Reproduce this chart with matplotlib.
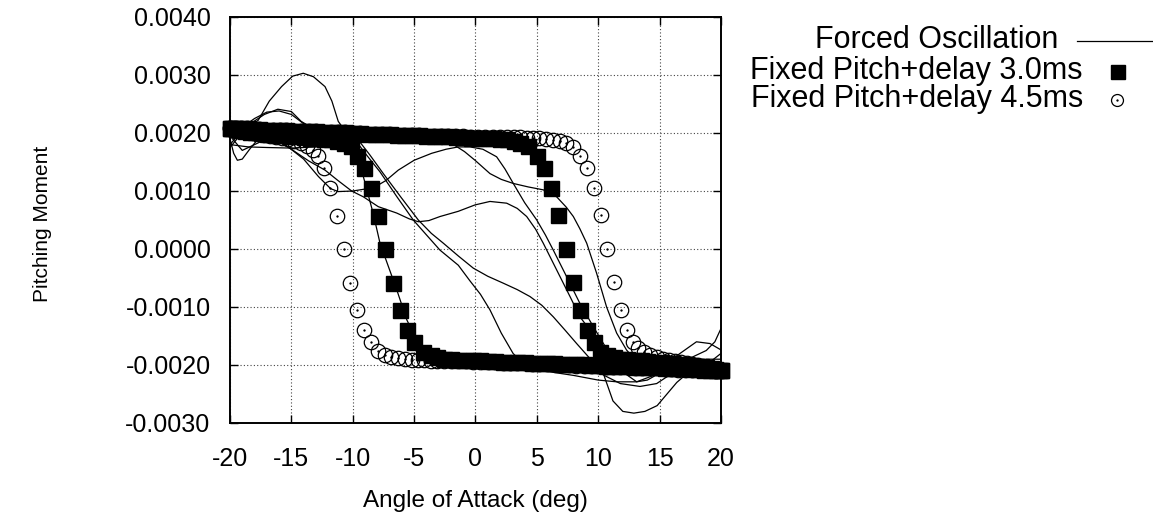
import matplotlib
matplotlib.use('Agg')
import matplotlib.pyplot as plt
from matplotlib.lines import Line2D
from matplotlib.ticker import FormatStrFormatter

plt.rcParams['font.family'] = ['Liberation Sans', 'DejaVu Sans']
plt.rcParams['axes.unicode_minus'] = False

# fixed pitch + 3.0 ms delay, alpha increasing
sq_up_aoa = [-20.0, -19.6, -19.1, -18.6, -18.1, -17.6, -17.05, -16.5, -15.95, -15.4,
             -14.8, -14.2, -13.6, -13.0, -12.4, -11.8, -11.2, -10.6, -10.0, -9.4,
             -8.8, -8.2, -7.6, -7.0, -6.4, -5.8, -5.2, -4.6, -4.0, -3.4,
             -2.8, -2.2, -1.6, -1.0, -0.4, 0.2, 0.8, 1.4, 2.0, 2.55,
             3.1, 3.65, 4.25, 4.99, 5.58, 6.18, 6.75, 7.40, 7.97, 8.54,
             9.11, 9.65, 10.14, 10.7, 11.25, 11.8, 12.35, 12.9, 13.45, 14.0,
             14.5, 15.0, 15.5, 16.0, 16.5, 17.0, 17.5, 17.95, 18.4, 18.8,
             19.2, 19.5, 19.8, 20.0]
sq_up_cm = [0.00209, 0.00209, 0.00208, 0.00208, 0.00207, 0.00207, 0.00206, 0.00206, 0.00205, 0.00205,
            0.00204, 0.00204, 0.00203, 0.00203, 0.00202, 0.00202, 0.00201, 0.00201, 0.00200, 0.00200,
            0.00199, 0.00199, 0.00198, 0.00198, 0.00197, 0.00197, 0.00196, 0.00196, 0.00195, 0.00195,
            0.00194, 0.00194, 0.00193, 0.00193, 0.00192, 0.00192, 0.00191, 0.00191, 0.00190, 0.00189,
            0.00187, 0.00183, 0.00177, 0.00160, 0.00140, 0.00106, 0.00058, 0.00000, -0.00057, -0.00105,
            -0.00140, -0.00160, -0.00177, -0.00183, -0.00187, -0.00189, -0.00190, -0.00191, -0.00192, -0.00193,
            -0.00194, -0.00195, -0.00196, -0.00197, -0.00198, -0.00199, -0.00200, -0.00201, -0.00202, -0.00204,
            -0.00206, -0.00207, -0.00208, -0.00209]

# fixed pitch + 3.0 ms delay, alpha decreasing
sq_dn_aoa = [-20.0, -19.8, -19.5, -19.2, -18.8, -18.4, -17.95, -17.5, -17.0, -16.5,
             -16.0, -15.5, -15.0, -14.5, -14.0, -13.45, -12.9, -12.35, -11.8, -11.25,
             -10.7, -10.14, -9.65, -9.11, -8.54, -7.97, -7.40, -6.75, -6.18, -5.58,
             -4.99, -4.25, -3.65, -3.1, -2.55, -2.0, -1.4, -0.8, -0.2, 0.4,
             1.0, 1.6, 2.2, 2.8, 3.4, 4.0, 4.6, 5.2, 5.8, 6.4,
             7.0, 7.6, 8.2, 8.8, 9.4, 10.0, 10.6, 11.2, 11.8, 12.4,
             13.0, 13.6, 14.2, 14.8, 15.4, 15.95, 16.5, 17.05, 17.6, 18.1,
             18.6, 19.1, 19.6, 20.0]
sq_dn_cm = [0.00209, 0.00208, 0.00207, 0.00206, 0.00204, 0.00202, 0.00201, 0.00200, 0.00199, 0.00198,
            0.00197, 0.00196, 0.00195, 0.00194, 0.00193, 0.00192, 0.00191, 0.00190, 0.00189, 0.00187,
            0.00183, 0.00177, 0.00160, 0.00140, 0.00105, 0.00057, 0.00000, -0.00058, -0.00106, -0.00140,
            -0.00160, -0.00177, -0.00183, -0.00187, -0.00189, -0.00190, -0.00191, -0.00191, -0.00192, -0.00192,
            -0.00193, -0.00193, -0.00194, -0.00194, -0.00195, -0.00195, -0.00196, -0.00196, -0.00197, -0.00197,
            -0.00198, -0.00198, -0.00199, -0.00199, -0.00200, -0.00200, -0.00201, -0.00201, -0.00202, -0.00202,
            -0.00203, -0.00203, -0.00204, -0.00204, -0.00205, -0.00205, -0.00206, -0.00206, -0.00207, -0.00207,
            -0.00208, -0.00208, -0.00209, -0.00209]

# fixed pitch + 4.5 ms delay, alpha increasing
ci_up_aoa = [-20.0, -19.6, -19.1, -18.6, -18.1, -17.6, -17.05, -16.5, -15.95, -15.4,
             -14.8, -14.2, -13.6, -13.0, -12.4, -11.8, -11.2, -10.6, -10.0, -9.4,
             -8.8, -8.2, -7.6, -7.0, -6.4, -5.8, -5.2, -4.6, -4.0, -3.4,
             -2.8, -2.2, -1.6, -1.0, -0.4, 0.2, 0.8, 1.4, 2.0, 2.55,
             3.1, 3.65, 4.2, 4.7, 5.2, 5.75, 6.3, 6.85, 7.4, 7.95,
             8.51, 9.06, 9.68, 10.22, 10.71, 11.28, 11.83, 12.32, 12.81, 13.26,
             13.75, 14.25, 14.75, 15.25, 15.75, 16.25, 16.75, 17.2, 17.65, 18.1,
             18.5, 18.9, 19.3, 19.6, 19.85, 20.0]
ci_up_cm = [0.00209, 0.00209, 0.00208, 0.00208, 0.00207, 0.00207, 0.00206, 0.00206, 0.00205, 0.00205,
            0.00204, 0.00204, 0.00203, 0.00203, 0.00202, 0.00202, 0.00201, 0.00201, 0.00200, 0.00200,
            0.00199, 0.00199, 0.00198, 0.00198, 0.00197, 0.00197, 0.00196, 0.00196, 0.00195, 0.00195,
            0.00194, 0.00194, 0.00194, 0.00194, 0.00193, 0.00193, 0.00193, 0.00193, 0.00193, 0.00193,
            0.00193, 0.00193, 0.00192, 0.00192, 0.00191, 0.00190, 0.00188, 0.00186, 0.00182, 0.00176,
            0.00160, 0.00140, 0.00106, 0.00058, 0.00000, -0.00057, -0.00105, -0.00140, -0.00160, -0.00171,
            -0.00178, -0.00183, -0.00187, -0.00189, -0.00191, -0.00193, -0.00195, -0.00197, -0.00199, -0.00200,
            -0.00202, -0.00204, -0.00206, -0.00207, -0.00208, -0.00209]

# fixed pitch + 4.5 ms delay, alpha decreasing
ci_dn_aoa = [-20.0, -19.85, -19.6, -19.3, -18.9, -18.5, -18.1, -17.65, -17.2, -16.75,
             -16.25, -15.75, -15.25, -14.75, -14.25, -13.75, -13.26, -12.81, -12.32, -11.83,
             -11.28, -10.71, -10.22, -9.68, -9.06, -8.51, -7.95, -7.4, -6.85, -6.3,
             -5.75, -5.2, -4.7, -4.2, -3.65, -3.1, -2.55, -2.0, -1.4, -0.8,
             -0.2, 0.4, 1.0, 1.6, 2.2, 2.8, 3.4, 4.0, 4.6, 5.2,
             5.8, 6.4, 7.0, 7.6, 8.2, 8.8, 9.4, 10.0, 10.6, 11.2,
             11.8, 12.4, 13.0, 13.6, 14.2, 14.8, 15.4, 15.95, 16.5, 17.05,
             17.6, 18.1, 18.6, 19.1, 19.6, 20.0]
ci_dn_cm = [0.00209, 0.00208, 0.00207, 0.00206, 0.00204, 0.00202, 0.00200, 0.00199, 0.00197, 0.00195,
            0.00193, 0.00191, 0.00189, 0.00187, 0.00183, 0.00178, 0.00171, 0.00160, 0.00140, 0.00105,
            0.00057, 0.00000, -0.00058, -0.00106, -0.00140, -0.00160, -0.00176, -0.00182, -0.00186, -0.00188,
            -0.00190, -0.00191, -0.00192, -0.00192, -0.00193, -0.00193, -0.00193, -0.00193, -0.00193, -0.00193,
            -0.00194, -0.00194, -0.00195, -0.00195, -0.00196, -0.00196, -0.00197, -0.00197, -0.00198, -0.00198,
            -0.00199, -0.00199, -0.00200, -0.00200, -0.00201, -0.00201, -0.00202, -0.00202, -0.00203, -0.00203,
            -0.00204, -0.00204, -0.00205, -0.00205, -0.00206, -0.00206, -0.00207, -0.00207, -0.00208, -0.00208,
            -0.00208, -0.00209, -0.00209, -0.00209, -0.00210, -0.00210]

# forced oscillation traces
fo1_aoa = [-20.0, -19.5, -18.8, -17.7, -16.8, -15.8, -14.9, -14.03, -13.2, -12.26,
           -11.7, -11.18, -10.6, -10.09, -9.6, -9.14, -8.33, -7.78, -7.1, -6.42,
           -5.6, -4.79, -3.97, -3.0, -1.0, 2.0, 6.0, 10.0, 14.0, 17.0, 20.0]
fo1_cm = [0.00175, 0.00188, 0.00205, 0.00222, 0.00255, 0.00280, 0.00298, 0.00303, 0.00297, 0.00280,
          0.00255, 0.00220, 0.00203, 0.00188, 0.00160, 0.00125, 0.00061, 0.00010, -0.00030, -0.00070,
          -0.00122, -0.00157, -0.00186, -0.00195, -0.00198, -0.00201, -0.00204, -0.00208, -0.00210, -0.00210,
          -0.00210]

fo2_aoa = [-20.0, -19.7, -19.4, -19.0, -18.4, -17.7, -16.8, -15.5, -14.0, -12.8,
           -11.8, -11.18, -10.0, -9.1, -8.19, -7.3, -6.29, -5.0, -3.57, -2.4,
           -1.4, -0.45, 0.6, 1.72, 2.4, 3.08, 4.0, 4.99, 5.7, 6.34,
           7.43, 8.51, 9.6, 10.42, 11.2, 12.0, 13.13, 14.0, 15.0, 16.0,
           17.0, 18.0, 19.1, 20.0]
fo2_cm = [0.00190, 0.00165, 0.00153, 0.00155, 0.00172, 0.00190, 0.00192, 0.00180, 0.00155, 0.00125,
          0.00104, 0.00099, 0.00100, 0.00103, 0.00107, 0.00118, 0.00136, 0.00153, 0.00165, 0.00172,
          0.00176, 0.00176, 0.00172, 0.00159, 0.00138, 0.00113, 0.00080, 0.00050, 0.00024, -0.00002,
          -0.00048, -0.00094, -0.00134, -0.00163, -0.00190, -0.00212, -0.00229, -0.00226, -0.00214, -0.00190,
          -0.00175, -0.00160, -0.00163, -0.00174]

fo3_aoa = [-20.0, -19.0, -18.0, -17.0, -16.3, -15.0, -13.6, -12.26, -11.2, -10.09,
           -9.14, -7.92, -6.42, -5.4, -4.66, -3.8, -2.89, -1.4, -0.04, 1.18,
           2.54, 3.4, 4.17, 4.9, 5.52, 6.61, 7.70, 8.51, 9.33, 10.0,
           10.5, 11.2, 12.0, 12.9, 13.8, 14.8, 15.6, 16.4, 17.5, 18.6,
           19.4, 20.0]
fo3_cm = [0.00195, 0.00170, 0.00180, 0.00190, 0.00188, 0.00172, 0.00152, 0.00136, 0.00118, 0.00100,
          0.00090, 0.00073, 0.00062, 0.00052, 0.00047, 0.00049, 0.00056, 0.00065, 0.00076, 0.00082,
          0.00079, 0.00070, 0.00056, 0.00034, 0.00010, -0.00036, -0.00082, -0.00117, -0.00140, -0.00180,
          -0.00220, -0.00262, -0.00280, -0.00283, -0.00280, -0.00270, -0.00250, -0.00230, -0.00210, -0.00203,
          -0.00190, -0.00180]

fo4_aoa = [-20.0, -19.2, -18.2, -17.2, -16.1, -15.0, -14.2, -13.0, -11.0, -8.0,
           -5.0, -3.0, -1.94, -0.9, -0.04, 1.18, 2.1, 3.08, 4.3, 5.52,
           6.61, 7.4, 7.97, 8.5, 9.06, 9.87, 10.68, 11.5, 12.3, 13.2,
           14.2, 15.4, 16.6, 17.8, 18.8, 19.5, 20.0]
fo4_cm = [0.00180, 0.00200, 0.00218, 0.00232, 0.00241, 0.00237, 0.00220, 0.00205, 0.00203, 0.00200,
          0.00196, 0.00190, 0.00182, 0.00168, 0.00153, 0.00130, 0.00120, 0.00113, 0.00107, 0.00102,
          0.00090, 0.00072, 0.00056, 0.00035, 0.00010, -0.00042, -0.00100, -0.00145, -0.00174, -0.00196,
          -0.00205, -0.00208, -0.00200, -0.00185, -0.00175, -0.00160, -0.00137]

fo5_aoa = [-20.0, -19.0, -18.0, -17.0, -16.0, -15.0, -14.0, -12.5, -11.0, -10.2,
           -9.55, -8.6, -7.51, -6.1, -4.66, -3.6, -2.62, -1.4, -0.18, 1.0,
           2.27, 3.4, 4.44, 5.4, 6.34, 7.3, 8.24, 9.33, 10.4, 11.8,
           13.4, 14.76, 16.4, 18.0, 20.0]
fo5_cm = [0.00205, 0.00210, 0.00225, 0.00236, 0.00238, 0.00232, 0.00216, 0.00203, 0.00200, 0.00196,
          0.00188, 0.00162, 0.00130, 0.00090, 0.00050, 0.00027, 0.00010, -0.00012, -0.00033, -0.00047,
          -0.00059, -0.00070, -0.00082, -0.00097, -0.00117, -0.00140, -0.00163, -0.00189, -0.00217, -0.00232,
          -0.00237, -0.00232, -0.00209, -0.00200, -0.00205]

fo6_aoa = [-20.0, -18.5, -17.0, -15.0, -13.0, -11.5, -10.4, -9.7, -8.8, -7.78,
           -6.4, -5.07, -3.9, -2.89, -1.4, -0.45, 0.4, 1.18, 2.1, 3.06,
           4.0, 5.5, 8.0, 10.0, 11.5, 13.13, 15.0, 17.2, 18.8, 20.0]
fo6_cm = [0.00180, 0.00176, 0.00175, 0.00174, 0.00176, 0.00185, 0.00190, 0.00185, 0.00160, 0.00133,
          0.00090, 0.00050, 0.00022, -0.00002, -0.00028, -0.00055, -0.00078, -0.00105, -0.00145, -0.00180,
          -0.00200, -0.00210, -0.00218, -0.00226, -0.00229, -0.00229, -0.00214, -0.00203, -0.00190, -0.00190]

fo_curves = [(fo1_aoa, fo1_cm), (fo2_aoa, fo2_cm), (fo3_aoa, fo3_cm),
             (fo4_aoa, fo4_cm), (fo5_aoa, fo5_cm), (fo6_aoa, fo6_cm)]

x_ticks = [-20, -15, -10, -5, 0, 5, 10, 15, 20]
y_ticks = [-0.003, -0.002, -0.001, 0.0, 0.001, 0.002, 0.003, 0.004]

W, H = 1153, 520
fig = plt.figure(figsize=(W / 100, H / 100), dpi=100)
ax = fig.add_axes([230 / W, (H - 423) / H, 491 / W, 406 / H])

for aoa, cm in fo_curves:
    ax.plot(aoa, cm, color='black', lw=0.9, zorder=2)

sq_style = dict(marker='s', ms=10.8, mfc='black', mec='black', ls='none',
                clip_on=False, zorder=3)
ax.plot(sq_up_aoa, sq_up_cm, **sq_style)
ax.plot(sq_dn_aoa, sq_dn_cm, **sq_style)

ci_style = dict(marker='o', ms=10.4, mfc='none', mec='black', mew=0.9, ls='none',
                clip_on=False, zorder=4)
dot_style = dict(marker='o', ms=1.3, mfc='black', mec='black', mew=0.3, ls='none',
                 clip_on=False, zorder=5)
for aoa, cm in [(ci_up_aoa, ci_up_cm), (ci_dn_aoa, ci_dn_cm)]:
    ax.plot(aoa, cm, **ci_style)
    ax.plot(aoa, cm, **dot_style)

ax.set_xlim(-20, 20)
ax.set_ylim(-0.003, 0.004)
ax.set_xticks(x_ticks)
ax.set_yticks(y_ticks)
ax.yaxis.set_major_formatter(FormatStrFormatter('%.4f'))
ax.grid(True, color='#444444', ls=(0, (1, 2)), lw=0.8)
ax.tick_params(direction='in', length=6, width=1, top=True, right=True,
               labelsize=18)
ax.tick_params(axis='x', pad=17)
ax.tick_params(axis='y', pad=14)
for s in ax.spines.values():
    s.set_linewidth(1.4)

ax.set_xlabel('Angle of Attack (deg)', fontsize=17.5, labelpad=14)
ax.set_ylabel('Pitching Moment', fontsize=15)
ax.yaxis.set_label_coords(-0.362, 0.49)

# key, drawn in figure pixels
def fx(px):
    return px / W

def fy(py):
    return 1 - py / H

key_fs = 22
fig.text(fx(1058), fy(40), 'Forced Oscillation', ha='right', va='center', fontsize=key_fs)
fig.text(fx(1083), fy(71), 'Fixed Pitch+delay 3.0ms', ha='right', va='center', fontsize=key_fs)
fig.text(fx(1083), fy(99), 'Fixed Pitch+delay 4.5ms', ha='right', va='center', fontsize=key_fs)
fig.add_artist(Line2D([fx(1077), fx(1153)], [fy(41), fy(41)], color='black', lw=0.9,
                      transform=fig.transFigure))
fig.add_artist(Line2D([fx(1117.5)], [fy(72)], marker='s', ms=9.4, mfc='black', mec='black',
                      ls='none', transform=fig.transFigure))
fig.add_artist(Line2D([fx(1117)], [fy(100)], marker='o', ms=8.6, mfc='none', mec='black',
                      mew=0.9, ls='none', transform=fig.transFigure))
fig.add_artist(Line2D([fx(1117)], [fy(100)], marker='o', ms=1.3, mfc='black', mec='black',
                      mew=0.3, ls='none', transform=fig.transFigure))

fig.savefig('out.png', dpi=100)
